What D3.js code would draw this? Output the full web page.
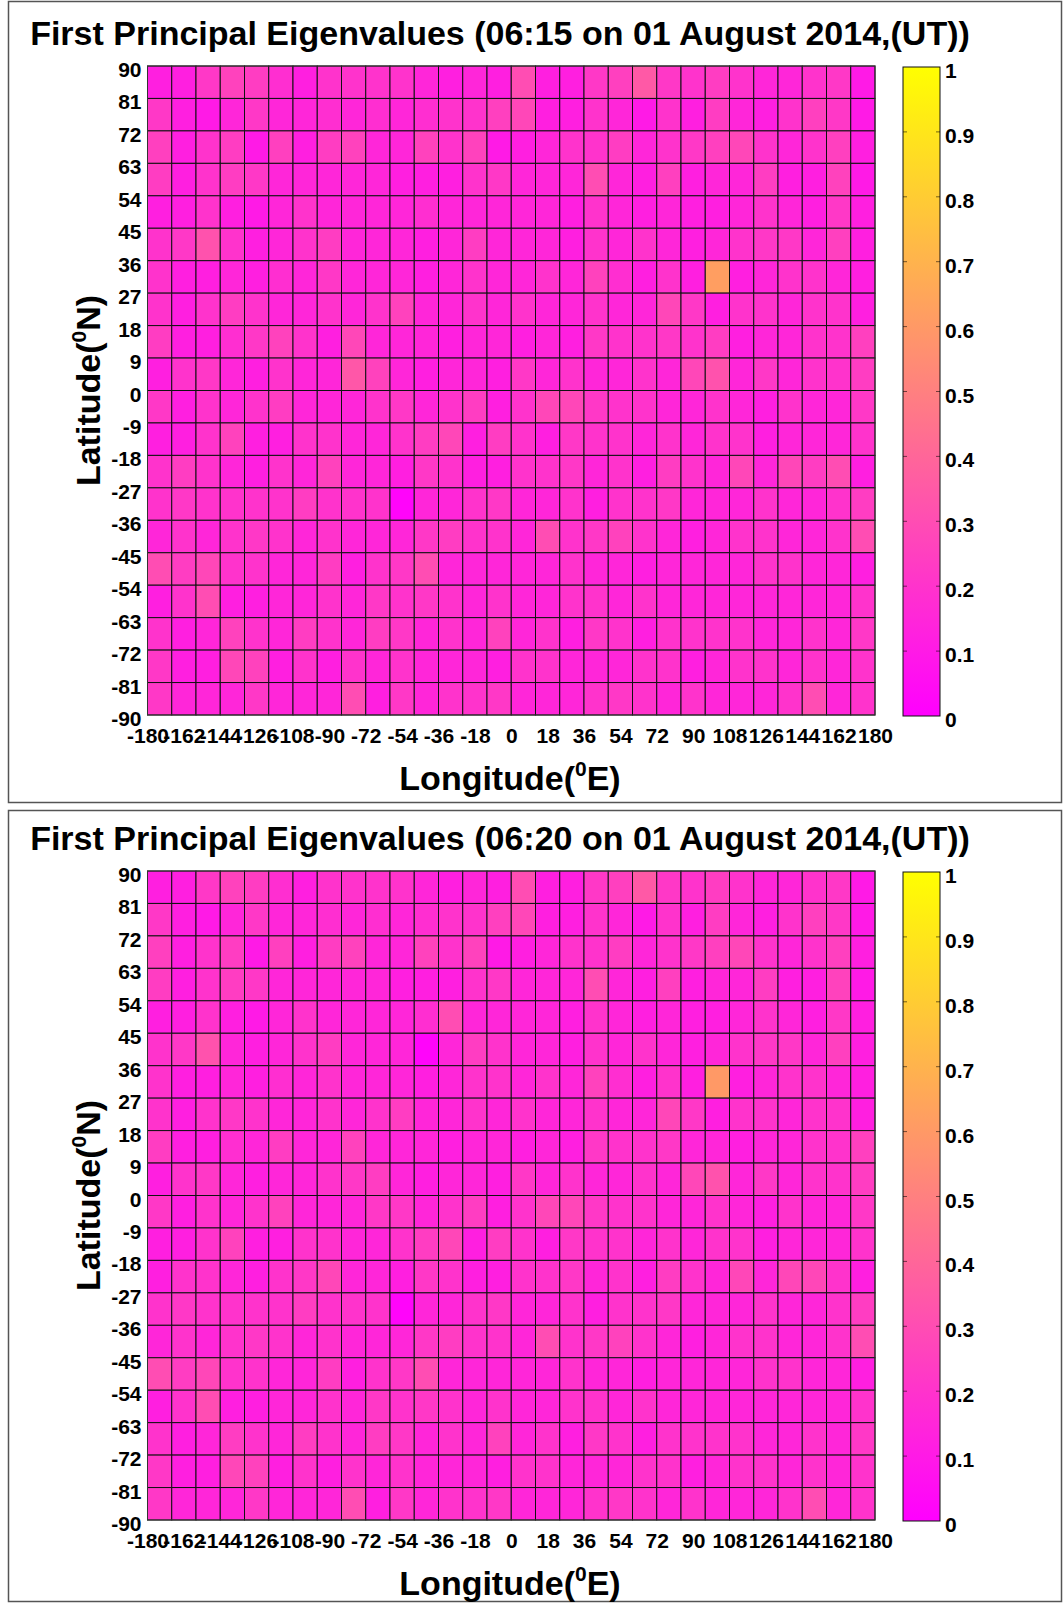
<!DOCTYPE html>
<html>
<head>
<meta charset="utf-8">
<script src="https://cdn.jsdelivr.net/npm/d3@7"></script>
<style>
body { margin: 0; background: white; }
text { font-family: "Liberation Sans", Arial, sans-serif; fill: black; }
.tick text { font-weight: bold; font-size: 21px; }
</style>
</head>
<body>
<script>

const titles = [
  "First Principal Eigenvalues (06:15 on 01 August 2014,(UT))",
  "First Principal Eigenvalues (06:20 on 01 August 2014,(UT))"
];

// cell centres (30 longitude columns x 20 latitude rows)
const lonCells = [-174,-162,-150,-138,-126,-114,-102,-90,-78,-66,-54,-42,-30,-18,-6,
                  6,18,30,42,54,66,78,90,102,114,126,138,150,162,174];
const latCells = [85.5,76.5,67.5,58.5,49.5,40.5,31.5,22.5,13.5,4.5,
                  -4.5,-13.5,-22.5,-31.5,-40.5,-49.5,-58.5,-67.5,-76.5,-85.5];
const lonTicks = [-180,-162,-144,-126,-108,-90,-72,-54,-36,-18,0,18,36,54,72,90,108,126,144,162,180];
const latTicks = [90,81,72,63,54,45,36,27,18,9,0,-9,-18,-27,-36,-45,-54,-63,-72,-81,-90];
const cbarTicks = [0,0.1,0.2,0.3,0.4,0.5,0.6,0.7,0.8,0.9,1];

// rows from north (top) to south
const eig0615 = [
  [0.12,0.12,0.22,0.26,0.24,0.18,0.12,0.20,0.20,0.20,0.20,0.15,0.12,0.15,0.12,0.30,0.12,0.12,0.22,0.25,0.35,0.22,0.20,0.24,0.20,0.15,0.15,0.20,0.22,0.10],
  [0.22,0.12,0.10,0.15,0.22,0.15,0.15,0.18,0.15,0.18,0.15,0.18,0.20,0.20,0.25,0.28,0.12,0.12,0.20,0.15,0.10,0.20,0.12,0.24,0.15,0.12,0.20,0.25,0.22,0.10],
  [0.25,0.12,0.20,0.24,0.10,0.25,0.12,0.24,0.26,0.15,0.15,0.26,0.20,0.26,0.10,0.12,0.15,0.20,0.20,0.24,0.15,0.20,0.22,0.25,0.28,0.20,0.15,0.20,0.25,0.12],
  [0.24,0.12,0.20,0.24,0.22,0.15,0.15,0.15,0.15,0.15,0.12,0.12,0.12,0.20,0.22,0.15,0.15,0.15,0.30,0.15,0.12,0.25,0.12,0.15,0.15,0.24,0.12,0.12,0.26,0.10],
  [0.12,0.12,0.20,0.12,0.10,0.15,0.20,0.15,0.15,0.15,0.15,0.18,0.15,0.15,0.15,0.15,0.15,0.12,0.20,0.15,0.12,0.15,0.12,0.12,0.15,0.20,0.15,0.12,0.22,0.12],
  [0.20,0.22,0.32,0.20,0.12,0.15,0.20,0.24,0.15,0.15,0.15,0.12,0.15,0.24,0.15,0.15,0.15,0.12,0.20,0.15,0.20,0.15,0.12,0.15,0.20,0.22,0.22,0.15,0.25,0.12],
  [0.20,0.12,0.12,0.15,0.12,0.18,0.15,0.22,0.15,0.15,0.15,0.12,0.15,0.20,0.15,0.15,0.20,0.15,0.26,0.18,0.12,0.20,0.12,0.62,0.12,0.15,0.20,0.20,0.15,0.12],
  [0.20,0.12,0.20,0.24,0.20,0.15,0.15,0.20,0.15,0.20,0.26,0.15,0.15,0.20,0.15,0.20,0.15,0.15,0.20,0.15,0.15,0.28,0.22,0.12,0.20,0.20,0.15,0.20,0.20,0.12],
  [0.24,0.12,0.12,0.18,0.22,0.26,0.20,0.12,0.28,0.15,0.15,0.15,0.12,0.15,0.15,0.12,0.15,0.12,0.22,0.20,0.20,0.22,0.20,0.24,0.12,0.15,0.15,0.20,0.20,0.25],
  [0.12,0.20,0.22,0.15,0.12,0.20,0.15,0.15,0.34,0.26,0.15,0.12,0.15,0.15,0.12,0.22,0.15,0.20,0.15,0.15,0.20,0.15,0.28,0.32,0.15,0.22,0.15,0.20,0.20,0.24],
  [0.22,0.12,0.20,0.15,0.20,0.24,0.15,0.15,0.15,0.20,0.22,0.15,0.20,0.24,0.12,0.20,0.28,0.28,0.22,0.20,0.20,0.15,0.15,0.20,0.15,0.12,0.20,0.15,0.15,0.22],
  [0.12,0.12,0.20,0.26,0.12,0.12,0.20,0.20,0.15,0.15,0.20,0.24,0.28,0.12,0.24,0.20,0.12,0.22,0.20,0.20,0.15,0.20,0.15,0.20,0.20,0.12,0.15,0.15,0.15,0.20],
  [0.20,0.24,0.20,0.15,0.12,0.20,0.15,0.26,0.15,0.15,0.12,0.22,0.20,0.12,0.12,0.20,0.20,0.22,0.15,0.20,0.12,0.24,0.20,0.15,0.28,0.15,0.28,0.24,0.30,0.12],
  [0.20,0.22,0.20,0.20,0.20,0.20,0.24,0.20,0.20,0.20,0.02,0.15,0.15,0.20,0.22,0.15,0.15,0.20,0.12,0.20,0.20,0.22,0.15,0.15,0.15,0.20,0.15,0.15,0.20,0.24],
  [0.15,0.20,0.15,0.20,0.22,0.20,0.15,0.20,0.15,0.15,0.15,0.22,0.24,0.20,0.20,0.15,0.30,0.20,0.22,0.26,0.20,0.15,0.12,0.15,0.20,0.20,0.15,0.15,0.20,0.30],
  [0.30,0.24,0.28,0.20,0.20,0.15,0.15,0.24,0.12,0.20,0.22,0.30,0.15,0.15,0.15,0.15,0.15,0.20,0.15,0.15,0.12,0.15,0.15,0.15,0.15,0.20,0.20,0.15,0.15,0.12],
  [0.12,0.20,0.30,0.12,0.12,0.15,0.15,0.20,0.15,0.22,0.20,0.22,0.20,0.15,0.20,0.15,0.15,0.20,0.20,0.15,0.20,0.15,0.15,0.15,0.15,0.15,0.15,0.15,0.15,0.20],
  [0.20,0.12,0.15,0.26,0.20,0.15,0.24,0.20,0.15,0.24,0.22,0.15,0.20,0.15,0.26,0.15,0.20,0.12,0.22,0.20,0.12,0.20,0.20,0.20,0.20,0.15,0.15,0.20,0.15,0.22],
  [0.22,0.12,0.12,0.28,0.26,0.12,0.20,0.12,0.20,0.15,0.20,0.15,0.15,0.15,0.12,0.20,0.20,0.15,0.15,0.15,0.20,0.20,0.12,0.15,0.20,0.20,0.15,0.20,0.15,0.20],
  [0.22,0.15,0.15,0.15,0.22,0.15,0.15,0.15,0.30,0.12,0.22,0.15,0.20,0.20,0.22,0.15,0.15,0.15,0.20,0.22,0.20,0.15,0.20,0.15,0.15,0.15,0.20,0.30,0.15,0.20]
];

const eig0620 = [
  [0.12,0.12,0.22,0.26,0.24,0.18,0.12,0.20,0.20,0.20,0.20,0.15,0.12,0.15,0.12,0.30,0.12,0.12,0.22,0.25,0.35,0.22,0.20,0.24,0.20,0.15,0.15,0.20,0.22,0.10],
  [0.22,0.12,0.10,0.15,0.22,0.15,0.15,0.18,0.15,0.18,0.15,0.18,0.20,0.20,0.25,0.28,0.12,0.12,0.20,0.15,0.10,0.20,0.12,0.24,0.15,0.12,0.20,0.25,0.22,0.10],
  [0.25,0.12,0.20,0.24,0.10,0.25,0.12,0.24,0.26,0.15,0.15,0.26,0.20,0.26,0.10,0.12,0.15,0.20,0.20,0.24,0.15,0.20,0.22,0.25,0.28,0.20,0.15,0.20,0.25,0.12],
  [0.24,0.12,0.20,0.24,0.22,0.15,0.15,0.15,0.15,0.15,0.12,0.12,0.12,0.20,0.22,0.15,0.15,0.15,0.30,0.15,0.12,0.25,0.12,0.15,0.15,0.24,0.12,0.12,0.26,0.10],
  [0.12,0.12,0.20,0.12,0.10,0.15,0.20,0.15,0.15,0.15,0.15,0.18,0.30,0.15,0.15,0.15,0.15,0.12,0.20,0.15,0.12,0.15,0.12,0.12,0.15,0.20,0.15,0.12,0.22,0.12],
  [0.20,0.22,0.32,0.15,0.12,0.15,0.20,0.24,0.15,0.15,0.15,0.02,0.15,0.24,0.20,0.15,0.15,0.12,0.20,0.15,0.20,0.15,0.12,0.15,0.20,0.22,0.22,0.15,0.25,0.12],
  [0.20,0.12,0.12,0.15,0.12,0.18,0.15,0.20,0.15,0.15,0.15,0.12,0.15,0.20,0.20,0.15,0.20,0.15,0.26,0.18,0.12,0.20,0.12,0.60,0.12,0.15,0.20,0.20,0.15,0.12],
  [0.20,0.12,0.20,0.22,0.20,0.15,0.15,0.20,0.15,0.20,0.24,0.15,0.15,0.20,0.15,0.20,0.15,0.15,0.20,0.15,0.15,0.28,0.22,0.12,0.20,0.20,0.15,0.20,0.20,0.12],
  [0.24,0.12,0.12,0.18,0.15,0.24,0.15,0.15,0.26,0.15,0.15,0.15,0.12,0.15,0.15,0.12,0.15,0.12,0.22,0.20,0.20,0.22,0.15,0.15,0.12,0.15,0.15,0.20,0.20,0.25],
  [0.12,0.20,0.22,0.15,0.12,0.15,0.15,0.20,0.22,0.24,0.15,0.12,0.15,0.15,0.12,0.22,0.15,0.20,0.15,0.15,0.20,0.15,0.28,0.32,0.15,0.22,0.15,0.20,0.20,0.24],
  [0.22,0.12,0.20,0.15,0.20,0.26,0.15,0.15,0.15,0.22,0.22,0.15,0.20,0.24,0.12,0.20,0.28,0.28,0.22,0.20,0.20,0.15,0.15,0.20,0.15,0.12,0.20,0.15,0.15,0.22],
  [0.12,0.12,0.20,0.26,0.12,0.12,0.20,0.20,0.15,0.15,0.20,0.24,0.28,0.12,0.24,0.20,0.12,0.22,0.20,0.20,0.15,0.20,0.15,0.20,0.20,0.12,0.15,0.15,0.15,0.20],
  [0.12,0.20,0.20,0.15,0.12,0.20,0.22,0.28,0.15,0.15,0.12,0.22,0.20,0.12,0.12,0.20,0.20,0.22,0.15,0.20,0.12,0.24,0.20,0.15,0.28,0.15,0.28,0.28,0.20,0.12],
  [0.20,0.22,0.20,0.20,0.20,0.20,0.24,0.20,0.20,0.20,0.02,0.15,0.15,0.20,0.22,0.15,0.15,0.20,0.12,0.20,0.20,0.22,0.15,0.15,0.15,0.20,0.15,0.15,0.20,0.24],
  [0.15,0.20,0.15,0.20,0.22,0.20,0.15,0.20,0.15,0.15,0.15,0.22,0.24,0.20,0.20,0.15,0.30,0.20,0.22,0.26,0.20,0.15,0.12,0.15,0.20,0.20,0.15,0.15,0.20,0.30],
  [0.30,0.24,0.28,0.20,0.20,0.15,0.15,0.24,0.12,0.20,0.22,0.30,0.15,0.15,0.15,0.15,0.15,0.20,0.15,0.15,0.12,0.15,0.15,0.15,0.15,0.20,0.20,0.15,0.15,0.12],
  [0.12,0.20,0.30,0.12,0.12,0.15,0.15,0.20,0.15,0.22,0.20,0.22,0.20,0.15,0.20,0.15,0.15,0.20,0.20,0.15,0.20,0.15,0.15,0.15,0.15,0.15,0.15,0.15,0.15,0.20],
  [0.20,0.12,0.15,0.24,0.20,0.15,0.24,0.20,0.15,0.24,0.22,0.15,0.20,0.15,0.26,0.15,0.20,0.12,0.22,0.20,0.12,0.20,0.20,0.20,0.20,0.15,0.15,0.20,0.15,0.22],
  [0.22,0.12,0.12,0.28,0.26,0.12,0.20,0.12,0.20,0.15,0.20,0.15,0.15,0.15,0.12,0.20,0.20,0.15,0.15,0.15,0.20,0.20,0.12,0.15,0.20,0.20,0.15,0.20,0.15,0.20],
  [0.22,0.15,0.15,0.15,0.22,0.15,0.15,0.15,0.30,0.12,0.22,0.15,0.20,0.20,0.22,0.15,0.15,0.15,0.20,0.22,0.20,0.15,0.20,0.15,0.15,0.15,0.20,0.30,0.15,0.20]
];

const panels = [eig0615, eig0620];

const svg = d3.select("body").append("svg")
  .attr("width", 1064)
  .attr("height", 1604);

// MATLAB "spring": magenta -> yellow
const color = d3.scaleSequential(d3.interpolateRgb("#ff00ff", "#ffff00")).domain([0, 1]);

const panelTop = [0, 805];
const grid = {left: 147.5, right: 875, top: 66, bottom: 715};
const cbar = {left: 903, right: 940};

const x = d3.scaleLinear().domain([-180, 180]).range([grid.left, grid.right]);
const y = d3.scaleLinear().domain([90, -90]).range([grid.top, grid.bottom]);
const cy = d3.scaleLinear().domain([0, 1]).range([grid.bottom + 1, grid.top + 1]);

// gradient for colorbar
const defs = svg.append("defs");
const grad = defs.append("linearGradient").attr("id", "spring")
  .attr("x1", 0).attr("y1", 1).attr("x2", 0).attr("y2", 0);
grad.selectAll("stop").data(cbarTicks).join("stop")
  .attr("offset", d => d)
  .attr("stop-color", d => color(d));

panels.forEach((vals, p) => {
  const frameTop = p === 0 ? 1.5 : 810.5;
  const frameH = p === 0 ? 801 : 791;
  svg.append("rect")
    .attr("x", 8.5).attr("y", frameTop)
    .attr("width", 1053).attr("height", frameH)
    .attr("fill", "white").attr("stroke", "#555").attr("stroke-width", 1.5);

  const g = svg.append("g").attr("transform", `translate(0,${panelTop[p]})`);

  g.append("text")
    .attr("x", 500).attr("y", 45)
    .attr("text-anchor", "middle")
    .attr("font-size", 34).attr("font-weight", "bold")
    .text(titles[p]);

  const cells = [];
  vals.forEach((row, i) => row.forEach((v, j) => cells.push({lon: lonCells[j], lat: latCells[i], v})));

  g.append("g").selectAll("rect").data(cells).join("rect")
    .attr("x", d => x(d.lon - 6))
    .attr("y", d => y(d.lat + 4.5))
    .attr("width", d => x(d.lon + 6) - x(d.lon - 6))
    .attr("height", d => y(d.lat - 4.5) - y(d.lat + 4.5))
    .attr("fill", d => color(d.v))
    .attr("stroke", "#111")
    .attr("stroke-width", 1);

  g.append("rect")
    .attr("x", grid.left).attr("y", grid.top)
    .attr("width", grid.right - grid.left).attr("height", grid.bottom - grid.top)
    .attr("fill", "none").attr("stroke", "#333").attr("stroke-width", 1);

  // plain hyphen minus, like the original
  const fmt = d => String(d);

  const xAxis = d3.axisBottom(x).tickValues(lonTicks).tickSize(0).tickPadding(0).tickFormat(fmt);
  const gx = g.append("g").attr("transform", `translate(0,${grid.bottom})`).call(xAxis);
  gx.select(".domain").remove();
  gx.selectAll("text").attr("y", 13).attr("dy", "0.71em");

  const yAxis = d3.axisLeft(y).tickValues(latTicks).tickSize(0).tickPadding(6).tickFormat(fmt);
  const gy = g.append("g").attr("transform", `translate(${grid.left},0)`).call(yAxis);
  gy.select(".domain").remove();
  gy.selectAll("text").attr("dy", "0.5em");

  // axis titles
  const xt = g.append("text")
    .attr("x", 510).attr("y", 790)
    .attr("text-anchor", "middle")
    .attr("font-size", 34).attr("font-weight", "bold");
  xt.append("tspan").text("Longitude(");
  xt.append("tspan").attr("font-size", 21).attr("dy", -14).text("0");
  xt.append("tspan").attr("dy", 14).text("E)");

  const yt = g.append("text")
    .attr("transform", `translate(100,${(grid.top + grid.bottom) / 2}) rotate(-90)`)
    .attr("text-anchor", "middle")
    .attr("font-size", 34).attr("font-weight", "bold");
  yt.append("tspan").text("Latitude(");
  yt.append("tspan").attr("font-size", 21).attr("dy", -14).text("0");
  yt.append("tspan").attr("dy", 14).text("N)");

  // colorbar
  g.append("rect")
    .attr("x", cbar.left).attr("y", cy(1))
    .attr("width", cbar.right - cbar.left).attr("height", cy(0) - cy(1))
    .attr("fill", "url(#spring)")
    .attr("stroke", "#111").attr("stroke-width", 1);

  const cAxis = d3.axisRight(cy).tickValues(cbarTicks).tickSize(0).tickPadding(5).tickFormat(fmt);
  const gc = g.append("g").attr("transform", `translate(${cbar.right},0)`).call(cAxis);
  gc.select(".domain").remove();
  gc.selectAll("text").attr("dy", "0.5em");

  const tk = g.append("g");
  tk.selectAll(".tl").data(cbarTicks.slice(1, -1)).join("line")
    .attr("x1", cbar.left).attr("x2", cbar.left + 4)
    .attr("y1", d => cy(d)).attr("y2", d => cy(d))
    .attr("stroke", "rgba(0,0,0,0.55)");
  tk.selectAll(".tr").data(cbarTicks.slice(1, -1)).join("line")
    .attr("x1", cbar.right - 4).attr("x2", cbar.right)
    .attr("y1", d => cy(d)).attr("y2", d => cy(d))
    .attr("stroke", "rgba(0,0,0,0.55)");
});

</script>
</body>
</html>
